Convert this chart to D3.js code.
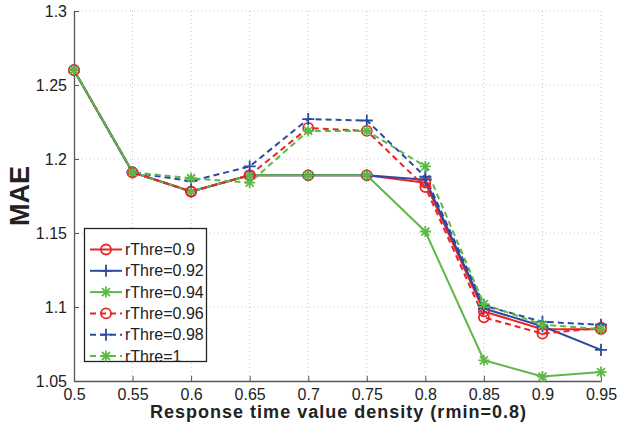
<!DOCTYPE html>
<html>
<head>
<meta charset="utf-8">
<script src="https://cdn.jsdelivr.net/npm/d3@7"></script>
<style>
  html, body { margin: 0; padding: 0; background: #fff; }
  svg text { font-family: "Liberation Sans", Arial, Helvetica, sans-serif; }
</style>
</head>
<body>
<svg id="chart" width="617" height="427"></svg>
<script>
// Response time value density on the x axis
const densities = [0.5, 0.55, 0.6, 0.65, 0.7, 0.75, 0.8, 0.85, 0.9, 0.95];
const xTicks = [0.5, 0.55, 0.6, 0.65, 0.7, 0.75, 0.8, 0.85, 0.9, 0.95];
const yTicks = [1.05, 1.1, 1.15, 1.2, 1.25, 1.3];

// MAE for each rThre setting
const mae090 = [1.260, 1.191, 1.178, 1.189, 1.189, 1.189, 1.184, 1.097, 1.085, 1.085];
const mae092 = [1.260, 1.191, 1.178, 1.189, 1.189, 1.189, 1.186, 1.099, 1.087, 1.071];
const mae094 = [1.260, 1.191, 1.178, 1.189, 1.189, 1.189, 1.151, 1.064, 1.053, 1.056];
const mae096 = [1.260, 1.191, 1.178, 1.189, 1.221, 1.219, 1.181, 1.093, 1.082, 1.086];
const mae098 = [1.260, 1.191, 1.185, 1.195, 1.227, 1.226, 1.188, 1.101, 1.090, 1.088];
const mae100 = [1.260, 1.191, 1.187, 1.184, 1.219, 1.219, 1.195, 1.102, 1.088, 1.085];

const seriesNames = ["rThre=0.9", "rThre=0.92", "rThre=0.94", "rThre=0.96", "rThre=0.98", "rThre=1"];

const RED = "#ec2227", BLUE = "#2b4aa3", GREEN = "#5cb947";
const series = [
  { name: seriesNames[0], values: mae090, color: RED,   dashed: false, marker: "circle" },
  { name: seriesNames[1], values: mae092, color: BLUE,  dashed: false, marker: "plus" },
  { name: seriesNames[2], values: mae094, color: GREEN, dashed: false, marker: "star" },
  { name: seriesNames[3], values: mae096, color: RED,   dashed: true,  marker: "circle" },
  { name: seriesNames[4], values: mae098, color: BLUE,  dashed: true,  marker: "plus" },
  { name: seriesNames[5], values: mae100, color: GREEN, dashed: true,  marker: "star" }
];

const svg = d3.select("#chart");
const plot = { left: 74, right: 601, top: 11, bottom: 381 };

const x = d3.scaleLinear().domain([0.5, 0.95]).range([plot.left, plot.right]);
const y = d3.scaleLinear().domain([1.05, 1.3]).range([plot.bottom, plot.top]);

// dotted grid
const grid = svg.append("g").attr("stroke", "#c8c8c8").attr("stroke-width", 1)
  .attr("stroke-dasharray", "1,3");
grid.selectAll(".gx").data(xTicks.slice(1)).join("line")
  .attr("x1", d => x(d)).attr("x2", d => x(d))
  .attr("y1", plot.top).attr("y2", plot.bottom);
grid.selectAll(".gy").data(yTicks.slice(1)).join("line")
  .attr("y1", d => y(d)).attr("y2", d => y(d))
  .attr("x1", plot.left).attr("x2", plot.right);

// axes with inward ticks
const xAxis = d3.axisBottom(x).tickValues(xTicks).tickFormat(d => String(d))
  .tickSizeInner(-5).tickSizeOuter(0);
const yAxis = d3.axisLeft(y).tickValues(yTicks).tickFormat(d => String(d))
  .tickSizeInner(-5).tickSizeOuter(0).tickPadding(7);

const gx = svg.append("g").attr("transform", `translate(0,${plot.bottom})`).call(xAxis);
const gy = svg.append("g").attr("transform", `translate(${plot.left},0)`).call(yAxis);
[gx, gy].forEach(g => {
  g.select(".domain").attr("stroke", "#555").attr("stroke-width", 1.3);
  g.selectAll(".tick line").attr("stroke", "#555").attr("stroke-width", 1);
  g.selectAll(".tick text").attr("fill", "#222").attr("font-size", 16);
});
gx.selectAll(".tick text").attr("y", 19).attr("dy", 0);
gy.selectAll(".tick text").attr("dy", "0.35em");

// axis titles
svg.append("text").attr("x", 338).attr("y", 418)
  .attr("text-anchor", "middle").attr("font-weight", "bold").attr("font-size", 18)
  .attr("textLength", 376).attr("lengthAdjust", "spacing")
  .attr("fill", "#222").text("Response time value density (rmin=0.8)");
svg.append("text").attr("transform", `translate(29,196) rotate(-90)`)
  .attr("text-anchor", "middle").attr("font-weight", "bold").attr("font-size", 27)
  .attr("fill", "#222").text("MAE");

// marker drawing
function drawMarker(g, type, color) {
  if (type === "circle") {
    g.append("circle").attr("r", 5).attr("fill", "none").attr("stroke", color).attr("stroke-width", 1.8);
  } else if (type === "plus") {
    g.append("path").attr("d", "M-6,0H6M0,-6V6").attr("stroke", color).attr("stroke-width", 1.8).attr("fill", "none");
  } else {
    g.append("path").attr("d", "M-5.5,0H5.5M0,-5.5V5.5M-4,-4L4,4M-4,4L4,-4")
      .attr("stroke", color).attr("stroke-width", 1.8).attr("fill", "none");
  }
}

const line = d3.line().x((d, i) => x(densities[i])).y(d => y(d));

const lines = svg.append("g");
series.forEach(s => {
  lines.append("path").datum(s.values).attr("d", line)
    .attr("fill", "none").attr("stroke", s.color).attr("stroke-width", 2)
    .attr("stroke-dasharray", s.dashed ? "6,4" : null)
    .attr("stroke-linejoin", "round");
});
series.forEach(s => {
  s.values.forEach((v, i) => {
    const g = lines.append("g").attr("transform", `translate(${x(densities[i])},${y(v)})`);
    drawMarker(g, s.marker, s.color);
  });
});

// legend
const legend = svg.append("g");
legend.append("rect").attr("x", 84.5).attr("y", 228.5).attr("width", 122).attr("height", 133)
  .attr("fill", "#fff").attr("stroke", "#222").attr("stroke-width", 1.3);
series.forEach((s, i) => {
  const yy = 249.5 + i * 21.3;
  legend.append("line").attr("x1", 90).attr("x2", 122).attr("y1", yy).attr("y2", yy)
    .attr("stroke", s.color).attr("stroke-width", 2)
    .attr("stroke-dasharray", s.dashed ? "6,4" : null);
  const g = legend.append("g").attr("transform", `translate(106,${yy})`);
  drawMarker(g, s.marker, s.color);
  legend.append("text").attr("x", 125).attr("y", yy).attr("dy", "0.35em")
    .attr("font-size", 16).attr("fill", "#222").text(s.name);
});
</script>
</body>
</html>
